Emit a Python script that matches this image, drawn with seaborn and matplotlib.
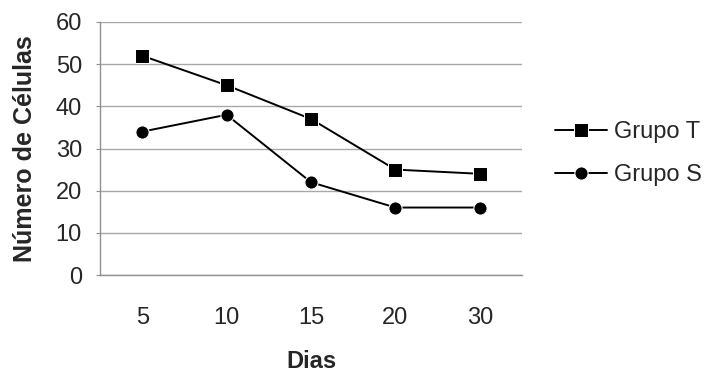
import matplotlib
matplotlib.use("Agg")
import matplotlib.pyplot as plt
import seaborn as sns
import pandas as pd
import numpy as np

dias = ["5", "10", "15", "20", "30"]
grupo_t = [52, 45, 37, 25, 24]
grupo_s = [34, 38, 22, 16, 16]
series_names = ["Grupo T", "Grupo S"]

df = pd.DataFrame({
    "Dias": dias * 2,
    "valor": grupo_t + grupo_s,
    "grupo": [series_names[0]] * len(dias) + [series_names[1]] * len(dias),
})

sns.set_style("white")
plt.rcParams["font.family"] = ["Liberation Sans", "DejaVu Sans"]

fig = plt.figure(figsize=(7.15, 3.74), dpi=100)
ax = fig.add_axes([100 / 715, 1 - 275 / 374, 422 / 715, 253 / 374])

sns.lineplot(data=df, x="Dias", y="valor", hue="grupo", style="grupo",
             markers={"Grupo T": "s", "Grupo S": "o"}, dashes=False,
             palette={"Grupo T": "black", "Grupo S": "black"},
             markersize=9.5, linewidth=1.4, ax=ax, sort=False)

ax.set_ylim(0, 60)
ax.set_yticks(np.arange(0, 61, 10))
ax.set_xlim(-0.5, len(dias) - 0.5)
ax.grid(axis="y", color="#a8a8a8", linewidth=1)
ax.set_axisbelow(True)
for s in ["top", "right"]:
    ax.spines[s].set_visible(False)
for s in ["left", "bottom"]:
    ax.spines[s].set_color("#909090")
    ax.spines[s].set_linewidth(1)

ax.set_xticks(np.arange(-0.5, len(dias), 1.0), minor=True)
ax.tick_params(axis="x", which="minor", length=5, color="#909090", width=1)
ax.tick_params(axis="x", which="major", length=0, labelsize=17, pad=23)
ax.tick_params(axis="y", length=3, color="#909090", labelsize=17, left=True, pad=10)

ax.set_xlabel("Dias", fontsize=17, fontweight="bold", va="center")
ax.xaxis.set_label_coords(0.5, (275 - 362) / 253)
ax.set_ylabel("Número de Células", fontsize=18, fontweight="bold", va="center")
ax.yaxis.set_label_coords((25 - 100) / 422, 0.5)

leg = ax.legend(loc="center left", bbox_to_anchor=(555 / 715, 1 - 153.5 / 374),
                bbox_transform=fig.transFigure, frameon=False,
                fontsize=17, handlelength=2.2, labelspacing=0.9,
                handletextpad=0.3, borderaxespad=0, borderpad=0)

fig.savefig("out.png", dpi=100, facecolor="white")
